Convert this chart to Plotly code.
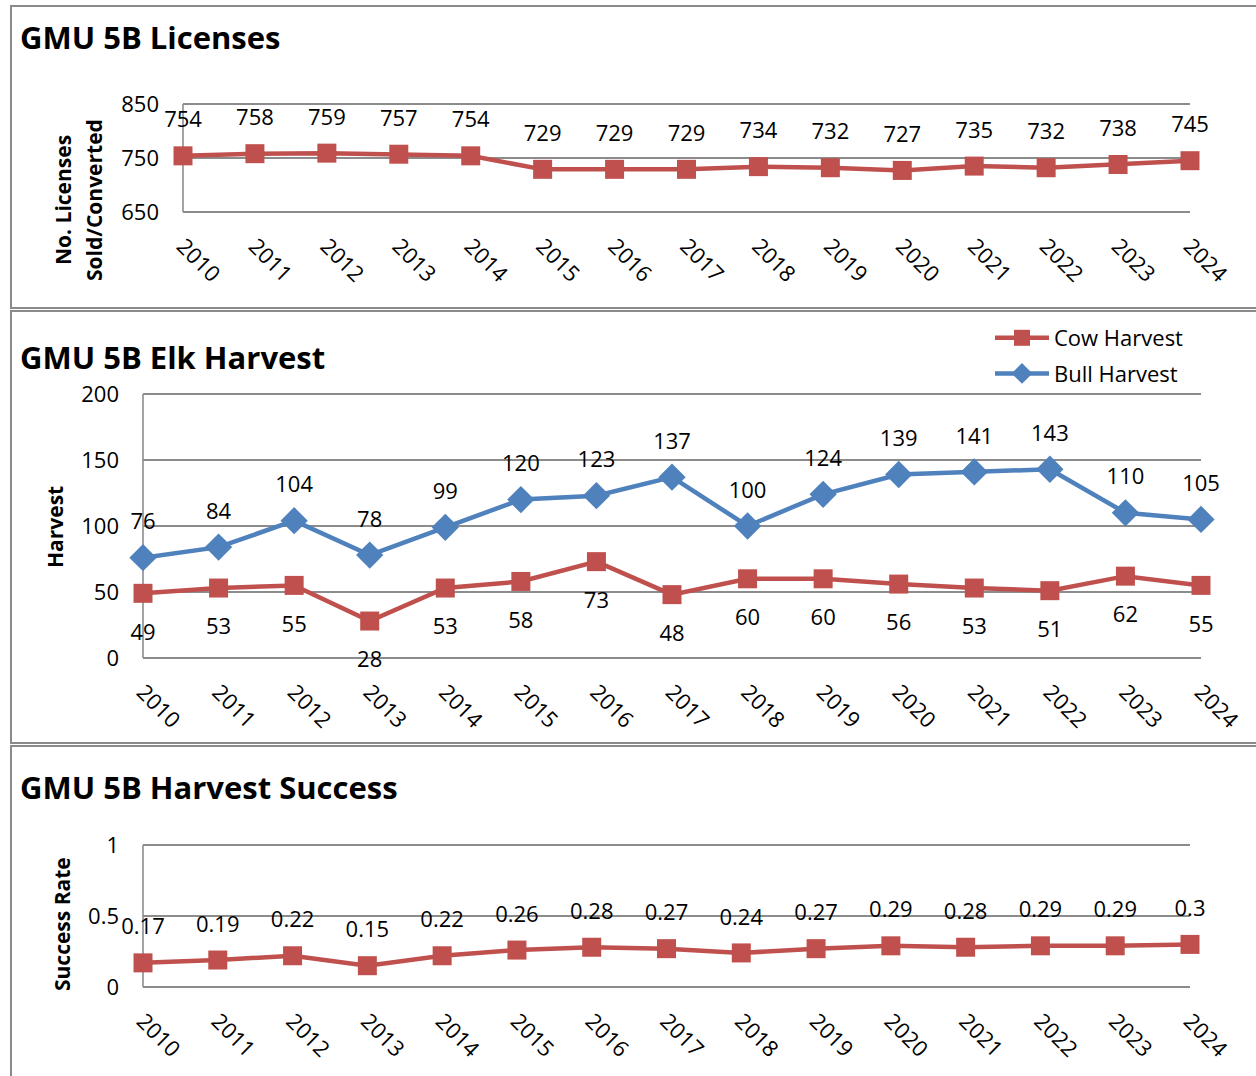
import plotly.graph_objects as go

W, H = 1256, 1076

years = [str(y) for y in range(2010, 2025)]
licenses = [754, 758, 759, 757, 754, 729, 729, 729, 734, 732, 727, 735, 732, 738, 745]
cow_harvest = [49, 53, 55, 28, 53, 58, 73, 48, 60, 60, 56, 53, 51, 62, 55]
bull_harvest = [76, 84, 104, 78, 99, 120, 123, 137, 100, 124, 139, 141, 143, 110, 105]
success_rate = [0.17, 0.19, 0.22, 0.15, 0.22, 0.26, 0.28, 0.27, 0.24, 0.27, 0.29, 0.28, 0.29, 0.29, 0.3]

lic_ticks = [650, 750, 850]
harv_ticks = [0, 50, 100, 150, 200]
succ_ticks = [0, 0.5, 1]

RED = "#C0504D"
BLUE = "#4F81BD"
GRID = "#8C8C8C"
FONT = "Open Sans"
NUMSIZE = 22


def px(x):
    return x / W


def py(y):
    return 1 - y / H


def ydomain_range(ptop, pbot, lo, hi, pad=2):
    # extend both domain and range by a few pixels so the end gridlines are kept
    per = (hi - lo) / (pbot - ptop)
    return [py(pbot + pad), py(ptop - pad)], [lo - pad * per, hi + pad * per]


fig = go.Figure()


def line_trace(x, y, xa, ya, color, symbol, size, name=None, legend=False, group=None):
    return go.Scatter(x=x, y=y, mode="lines+markers", xaxis=xa, yaxis=ya, name=name,
                      showlegend=legend, legendgroup=group,
                      line=dict(color=color, width=4.5),
                      marker=dict(symbol=symbol, size=size, color=color),
                      cliponaxis=False, hoverinfo="x+y")


def label_trace(x, y, xa, ya, pos, msize, texts):
    return go.Scatter(x=x, y=y, mode="markers+text", xaxis=xa, yaxis=ya, text=texts,
                      textposition=pos, showlegend=False, cliponaxis=False, hoverinfo="skip",
                      marker=dict(size=msize, color="rgba(0,0,0,0)"),
                      textfont=dict(family=FONT, size=NUMSIZE, color="black"))


fig.add_trace(line_trace(years, licenses, "x", "y", RED, "square", 19))
fig.add_trace(line_trace(years, cow_harvest, "x2", "y2", RED, "square", 19, "Cow Harvest", True, "cow"))
fig.add_trace(line_trace(years, bull_harvest, "x2", "y2", BLUE, "diamond", 21, "Bull Harvest", True, "bull"))
fig.add_trace(line_trace(years, success_rate, "x3", "y3", RED, "square", 19))

fig.add_trace(label_trace(years, licenses, "x", "y", "top center", 35, [str(v) for v in licenses]))
fig.add_trace(label_trace(years, cow_harvest, "x2", "y2", "bottom center", 46, [str(v) for v in cow_harvest]))
fig.add_trace(label_trace(years, bull_harvest, "x2", "y2", "top center", 35, [str(v) for v in bull_harvest]))
fig.add_trace(label_trace(years, success_rate, "x3", "y3", "top center", 35, [str(v) for v in success_rate]))

annotations = []
for txt, yy in [("GMU 5B Licenses", 37), ("GMU 5B Elk Harvest", 357), ("GMU 5B Harvest Success", 787)]:
    annotations.append(dict(x=px(18), y=py(yy), xref="paper", yref="paper", xanchor="left", yanchor="middle",
                            text="<b>" + txt + "</b>", showarrow=False,
                            font=dict(family=FONT, size=31, color="black")))

for txt, xx, yy in [("No. Licenses", 63, 200), ("Sold/Converted", 94, 200), ("Harvest", 55, 527),
                    ("Success Rate", 62, 924)]:
    annotations.append(dict(x=px(xx), y=py(yy), xref="paper", yref="paper", xanchor="center", yanchor="middle",
                            text="<b>" + txt + "</b>", showarrow=False, textangle=-90,
                            font=dict(family=FONT, size=21, color="black")))

shapes = []
for y0, y1 in [(6, 308), (311, 743), (746, 1090)]:
    shapes.append(dict(type="rect", xref="paper", yref="paper", x0=px(11), x1=px(1270), y0=py(y0), y1=py(y1),
                       line=dict(color="#8A8A8A", width=2), fillcolor="rgba(0,0,0,0)"))

xcommon = dict(type="category", range=[0, 14], showgrid=False, zeroline=False, showline=False,
               tickangle=45, tickfont=dict(family=FONT, size=NUMSIZE, color="black"), ticks="",
               ticklabelstandoff=14, automargin=False)
ycommon = dict(showgrid=True, gridcolor=GRID, gridwidth=1.6, zeroline=False, showline=False,
               tickfont=dict(family=FONT, size=NUMSIZE, color="black"), ticks="",
               ticklabelstandoff=23, automargin=False)

d1, r1 = ydomain_range(104, 212, 650, 850)
d2, r2 = ydomain_range(394, 658, 0, 200)
d3, r3 = ydomain_range(845, 987, 0, 1)

# left axis lines drawn as vertical segments spanning each plot area
for xa, (ptop, pbot), xpix in [("x", (104, 212), 183), ("x2", (394, 658), 143), ("x3", (845, 987), 143)]:
    shapes.append(dict(type="line", xref="paper", yref="paper", x0=px(xpix), x1=px(xpix),
                       y0=py(pbot), y1=py(ptop), line=dict(color=GRID, width=1.6), layer="below"))

fig.update_layout(
    template="none",
    width=W, height=H, margin=dict(l=0, r=0, t=0, b=0, autoexpand=False),
    paper_bgcolor="white", plot_bgcolor="rgba(0,0,0,0)",
    xaxis=dict(xcommon, domain=[px(183), px(1190)], anchor="y"),
    yaxis=dict(ycommon, domain=d1, range=r1, tickvals=lic_ticks, anchor="x"),
    xaxis2=dict(xcommon, domain=[px(143), px(1201)], anchor="y2"),
    yaxis2=dict(ycommon, domain=d2, range=r2, tickvals=harv_ticks, anchor="x2"),
    xaxis3=dict(xcommon, domain=[px(143), px(1190)], anchor="y3"),
    yaxis3=dict(ycommon, domain=d3, range=r3, tickvals=succ_ticks, anchor="x3"),
    legend=dict(x=px(990), y=py(317), xanchor="left", yanchor="top", bgcolor="rgba(0,0,0,0)",
                font=dict(family=FONT, size=NUMSIZE, color="black"), tracegroupgap=4, itemwidth=54),
    annotations=annotations,
    shapes=shapes,
)

fig.write_html("out.html")
